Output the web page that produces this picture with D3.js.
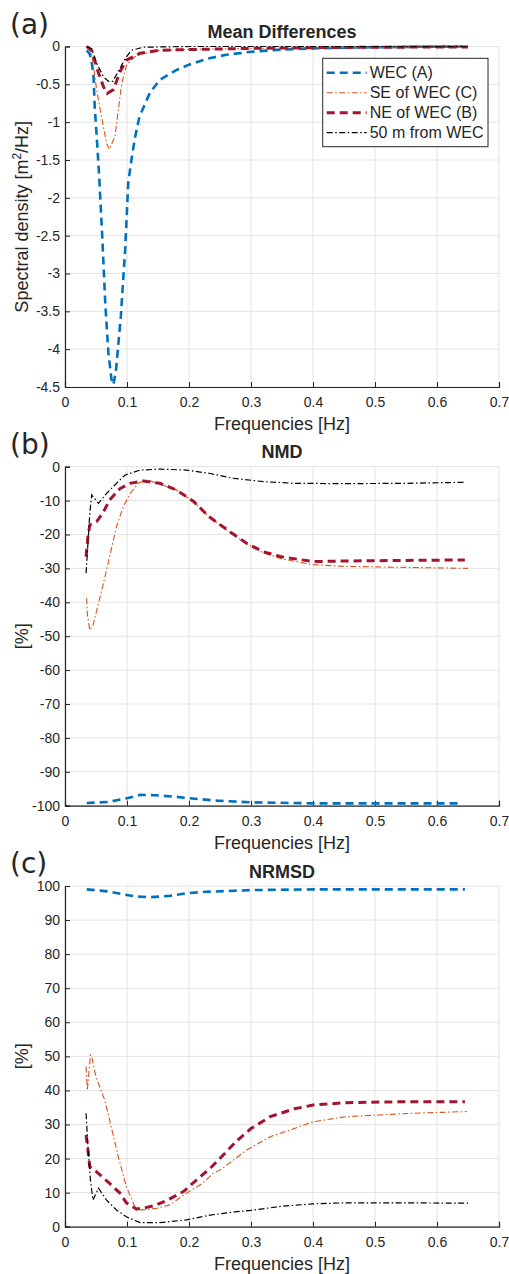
<!DOCTYPE html>
<html>
<head>
<meta charset="utf-8">
<script src="https://cdn.jsdelivr.net/npm/d3@7"></script>
<style>
  body { margin: 0; background: #fff; }
  text { font-family: "Liberation Sans", Arial, sans-serif; fill: #262626; }
</style>
</head>
<body>
<div id="chart"></div>
<script>
    // Series values: [frequency Hz, value]
    const seriesNames = ["WEC (A)", "SE of WEC (C)", "NE of WEC (B)", "50 m from WEC"];

    // (a) Mean differences, spectral density [m^2/Hz]
    const meanWEC = [[0.035, -0.05], [0.040, -0.1], [0.043, -0.2], [0.046, -0.4], [0.048, -0.8], [0.052, -1.3],
        [0.055, -1.7], [0.060, -2.5], [0.065, -3.4], [0.070, -4.05], [0.075, -4.4], [0.078, -4.47], [0.082, -4.3],
        [0.090, -3.57], [0.097, -2.69], [0.102, -1.8], [0.108, -1.45], [0.113, -1.2], [0.120, -0.93], [0.137, -0.61],
        [0.153, -0.44], [0.180, -0.31], [0.200, -0.24], [0.230, -0.16], [0.260, -0.11], [0.300, -0.07], [0.350, -0.04],
        [0.400, -0.025], [0.450, -0.015], [0.500, -0.01], [0.550, -0.005], [0.600, -0.002], [0.650, 0]];
    const meanSE = [[0.035, 0], [0.043, -0.09], [0.051, -0.57], [0.059, -0.93], [0.067, -1.28], [0.0715, -1.36],
        [0.0806, -1.19], [0.086, -0.84], [0.0915, -0.49], [0.0995, -0.24], [0.1156, -0.11], [0.153, -0.05],
        [0.200, -0.04], [0.300, -0.025], [0.400, -0.015], [0.500, -0.01], [0.650, -0.005]];
    const meanNE = [[0.035, 0], [0.043, -0.05], [0.054, -0.35], [0.062, -0.53], [0.068, -0.62], [0.078, -0.57],
        [0.089, -0.33], [0.099, -0.18], [0.121, -0.09], [0.153, -0.05], [0.200, -0.04], [0.300, -0.025],
        [0.400, -0.015], [0.500, -0.01], [0.650, -0.005]];
    const mean50m = [[0.035, 0], [0.043, -0.03], [0.051, -0.22], [0.062, -0.4], [0.070, -0.46], [0.077, -0.46],
        [0.086, -0.33], [0.097, -0.16], [0.107, -0.05], [0.126, -0.01], [0.200, 0], [0.650, 0]];

    // (b) NMD [%]
    const nmdWEC = [[0.035, -99.2], [0.070, -98.9], [0.100, -97.8], [0.121, -96.8], [0.145, -96.9], [0.175, -97.3],
        [0.200, -97.8], [0.245, -98.5], [0.300, -99], [0.400, -99.3], [0.640, -99.3]];
    const nmdSE = [[0.035, -38.8], [0.036, -43.5], [0.040, -48.2], [0.045, -47], [0.054, -40.3], [0.062, -34.4],
        [0.072, -26.5], [0.083, -17.7], [0.094, -11.8], [0.105, -7.9], [0.118, -4.9], [0.132, -3.9], [0.153, -5.1],
        [0.180, -6.9], [0.207, -10.3], [0.232, -14.7], [0.266, -19.4], [0.293, -22.8], [0.320, -25.4], [0.350, -27.2],
        [0.400, -28.9], [0.450, -29.4], [0.550, -29.7], [0.650, -30]];
    const nmdNE = [[0.034, -26.5], [0.037, -20.6], [0.040, -17.2], [0.051, -16.2], [0.061, -13.7], [0.072, -9.8],
        [0.089, -6.4], [0.105, -4.9], [0.126, -4.2], [0.153, -4.9], [0.180, -6.9], [0.207, -10.2], [0.232, -14.7],
        [0.266, -19.2], [0.293, -22.6], [0.320, -25.1], [0.347, -26.5], [0.400, -28.0], [0.455, -27.8], [0.645, -27.5]];
    const nmd50m = [[0.034, -31.4], [0.037, -22.6], [0.040, -13.7], [0.043, -8.3], [0.054, -10.8], [0.067, -7.9],
        [0.083, -4.9], [0.097, -2.45], [0.121, -1.0], [0.153, -0.7], [0.196, -1.0], [0.234, -2.0], [0.270, -3.4],
        [0.320, -4.4], [0.370, -4.9], [0.450, -5.0], [0.550, -4.9], [0.645, -4.6]];

    // (c) NRMSD [%]
    const nrmsdWEC = [[0.035, 99], [0.070, 98.4], [0.092, 97.6], [0.115, 96.9], [0.137, 96.7], [0.169, 97.1],
        [0.196, 97.9], [0.228, 98.3], [0.300, 98.8], [0.400, 99], [0.645, 99]];
    const nrmsdSE = [[0.034, 47], [0.036, 40], [0.041, 50.4], [0.043, 49.9], [0.050, 44], [0.064, 37.2],
        [0.072, 31.3], [0.086, 20.5], [0.099, 11.7], [0.115, 4.9], [0.130, 5.0], [0.148, 5.4], [0.169, 6.4],
        [0.196, 9.8], [0.223, 12.9], [0.239, 15.7], [0.250, 16.6], [0.293, 22.5], [0.331, 26.4], [0.363, 28.4],
        [0.400, 30.8], [0.454, 32.3], [0.508, 32.8], [0.561, 33.3], [0.648, 33.8]];
    const nrmsdNE = [[0.034, 26.9], [0.037, 22.5], [0.040, 17.6], [0.051, 16.1], [0.072, 12.7], [0.089, 9.8],
        [0.099, 7.0], [0.115, 5.2], [0.130, 5.6], [0.145, 6.2], [0.165, 7.8], [0.191, 10.3], [0.212, 13.7],
        [0.234, 17.1], [0.255, 21], [0.277, 25.2], [0.300, 28.8], [0.331, 32.3], [0.370, 34.6], [0.400, 35.7],
        [0.454, 36.4], [0.550, 36.7], [0.645, 36.7]];
    const nrmsd50m = [[0.034, 33.3], [0.037, 23.5], [0.041, 13.7], [0.045, 7.8], [0.054, 11.3], [0.067, 7.8],
        [0.083, 4.9], [0.099, 2.9], [0.121, 1.2], [0.153, 1.2], [0.196, 2.0], [0.234, 3.4], [0.277, 4.4],
        [0.300, 4.8], [0.350, 6.0], [0.400, 6.7], [0.450, 7.0], [0.550, 7.0], [0.650, 6.9]];

    // Tick values
    const xTicks = [0, 0.1, 0.2, 0.3, 0.4, 0.5, 0.6, 0.7];
    const yTicksA = [-4.5, -4, -3.5, -3, -2.5, -2, -1.5, -1, -0.5, 0];
    const yTicksB = [-100, -90, -80, -70, -60, -50, -40, -30, -20, -10, 0];
    const yTicksC = [0, 10, 20, 30, 40, 50, 60, 70, 80, 90, 100];

    const W = 509, H = 1274;
    const left = 65, right = 499;

    const styles = [
        { color: "#0072BD", width: 2.6, dash: "8,5" },
        { color: "#D95319", width: 1.1, dash: "6,2.5,1.5,2.5" },
        { color: "#A2142F", width: 3, dash: "8,5" },
        { color: "#000000", width: 1.2, dash: "6,2.5,1.5,2.5" }
    ];

    const svg = d3.select("#chart")
        .append("svg")
        .attr("width", W)
        .attr("height", H);

    const x = d3.scaleLinear().domain([0, 0.7]).range([left, right]);

    const panels = [
        { letter: "(a)", title: "Mean Differences", top: 46.5, bottom: 387, domain: [-4.5, 0], ticks: yTicksA,
          ylabel: "spectral", data: [meanWEC, meanSE, meanNE, mean50m], legend: true },
        { letter: "(b)", title: "NMD", top: 466.7, bottom: 805.7, domain: [-100, 0], ticks: yTicksB,
          ylabel: "[%]", data: [nmdWEC, nmdSE, nmdNE, nmd50m] },
        { letter: "(c)", title: "NRMSD", top: 886, bottom: 1226.7, domain: [0, 100], ticks: yTicksC,
          ylabel: "[%]", data: [nrmsdWEC, nrmsdSE, nrmsdNE, nrmsd50m] }
    ];

    panels.forEach(p => {
        const y = d3.scaleLinear().domain(p.domain).range([p.bottom, p.top]);
        const g = svg.append("g");

        // grid
        g.append("g").selectAll("line")
            .data(xTicks)
            .enter()
            .append("line")
            .attr("x1", d => x(d)).attr("x2", d => x(d))
            .attr("y1", p.top).attr("y2", p.bottom)
            .attr("stroke", "#e3e3e3").attr("stroke-width", 1);
        g.append("g").selectAll("line")
            .data(p.ticks)
            .enter()
            .append("line")
            .attr("x1", left).attr("x2", right)
            .attr("y1", d => y(d)).attr("y2", d => y(d))
            .attr("stroke", "#e3e3e3").attr("stroke-width", 1);

        // axes (MATLAB style, ticks inside)
        const xAxis = g.append("g")
            .attr("transform", `translate(0,${p.bottom})`)
            .call(d3.axisBottom(x).tickValues(xTicks).tickSize(-5).tickPadding(10).tickFormat(d => String(d)));
        const yAxis = g.append("g")
            .attr("transform", `translate(${left},0)`)
            .call(d3.axisLeft(y).tickValues(p.ticks).tickSize(-5).tickPadding(10).tickFormat(d => String(d)));
        [xAxis, yAxis].forEach(a => {
            a.select(".domain").attr("stroke", "#262626").attr("stroke-width", 1.2);
            a.selectAll(".tick line").attr("stroke", "#262626");
            a.selectAll("text").style("font-size", "14px").attr("fill", "#262626");
        });
        yAxis.selectAll("text").attr("x", -5);

        // series
        const line = d3.line().x(d => x(d[0])).y(d => y(d[1]));
        p.data.forEach((s, i) => {
            g.append("path")
                .datum(s)
                .attr("d", line)
                .attr("fill", "none")
                .attr("stroke", styles[i].color)
                .attr("stroke-width", styles[i].width)
                .attr("stroke-dasharray", styles[i].dash);
        });

        // title and labels
        g.append("text")
            .attr("x", (left + right) / 2)
            .attr("y", p.top - 8.5)
            .attr("text-anchor", "middle")
            .style("font-size", "18px")
            .style("font-weight", "bold")
            .attr("fill", "#000")
            .text(p.title);

        g.append("text")
            .attr("x", (left + right) / 2)
            .attr("y", p.bottom + 43)
            .attr("text-anchor", "middle")
            .style("font-size", "18px")
            .text("Frequencies [Hz]");

        g.append("text")
            .attr("x", 10)
            .attr("y", p.top - 13)
            .style("font-family", "'DejaVu Sans', sans-serif")
            .style("font-size", "28px")
            .attr("fill", "#000")
            .text(p.letter);

        const yl = g.append("text")
            .attr("transform", `translate(28,${(p.top + p.bottom) / 2}) rotate(-90)`)
            .attr("text-anchor", "middle")
            .style("font-size", "18px");
        if (p.ylabel === "spectral") {
            yl.append("tspan").text("Spectral density [m");
            yl.append("tspan").attr("dy", -7).style("font-size", "12px").text("2");
            yl.append("tspan").attr("dy", 7).text("/Hz]");
        } else {
            yl.text(p.ylabel);
        }

        // legend
        if (p.legend) {
            const lg = g.append("g").attr("transform", "translate(322.7,58.3)");
            lg.append("rect")
                .attr("width", 165.3).attr("height", 88.4)
                .attr("fill", "#fff").attr("stroke", "#262626").attr("stroke-width", 1);
            seriesNames.forEach((name, i) => {
                const yy = 14.4 + i * 20;
                lg.append("line")
                    .attr("x1", 4).attr("x2", 44)
                    .attr("y1", yy).attr("y2", yy)
                    .attr("stroke", styles[i].color)
                    .attr("stroke-width", styles[i].width)
                    .attr("stroke-dasharray", styles[i].dash);
                lg.append("text")
                    .attr("x", 47)
                    .attr("y", yy)
                    .attr("dy", "0.35em")
                    .style("font-size", "16px")
                    .attr("fill", "#000")
                    .text(name);
            });
        }
    });
</script>
</body>
</html>
